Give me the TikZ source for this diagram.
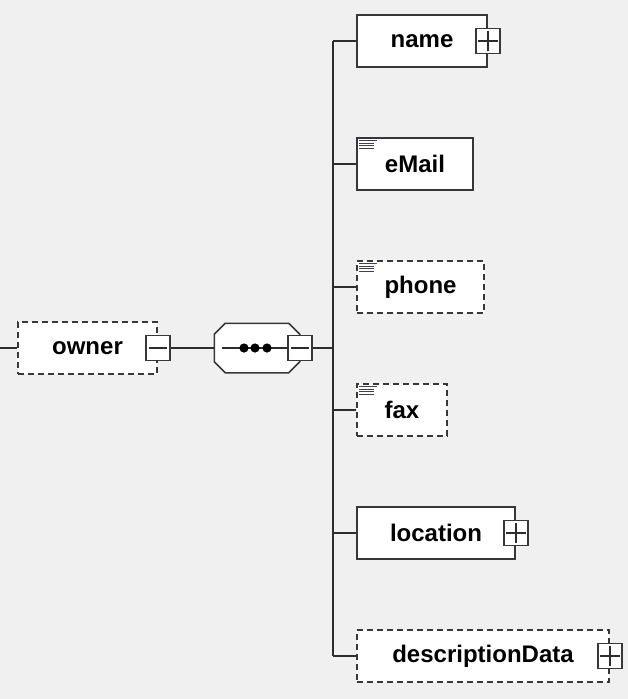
\documentclass[tikz,border=0pt]{standalone}
\usepackage{fontspec}
\setmainfont{Liberation Sans}
\begin{document}
\begin{tikzpicture}[x=1pt,y=-1pt,
  line width=1.5pt,
  elem/.style={draw=bordercol, fill=white, inner sep=0pt, minimum height=52pt,
    font=\bfseries\fontsize{24}{28}\selectfont, text=black},
  optional/.style={dash pattern=on 6pt off 4pt},
  toggle/.style={draw=bordercol, fill=white, inner sep=0pt, minimum width=24pt, minimum height=25pt},
  conn/.style={draw=linecol, line width=1.6pt},
  icon/.style={draw=iconcol, line width=1.1pt}
]
\definecolor{bg}{RGB}{240,240,240}
\definecolor{bordercol}{RGB}{55,55,55}
\definecolor{linecol}{RGB}{45,45,45}
\definecolor{iconcol}{RGB}{70,60,80}
\fill[bg] (0,0) rectangle (628,699);
\useasboundingbox (0,0) rectangle (628,699);

% left stub
\coordinate (start) at (0,348);

% owner
\node[elem, optional, minimum width=139pt] (owner) at (87.5,348) {owner};
\node[toggle] (ownerT) at (owner.east) {};
\draw[conn] ([xshift=4pt]ownerT.west) -- ([xshift=-4pt]ownerT.east);

% sequence
\node[inner sep=0pt, minimum width=84pt, minimum height=48pt] (seq) at (257,348) {};
\draw[draw=bordercol, fill=white]
  ([xshift=11pt]seq.north west) -- ([xshift=-11pt]seq.north east)
  -- ([yshift=-11pt]seq.north east) -- ([yshift=11pt]seq.south east)
  -- ([xshift=-11pt]seq.south east) -- ([xshift=11pt]seq.south west)
  -- ([yshift=11pt]seq.south west) -- ([yshift=-11pt]seq.north west) -- cycle;
\node[toggle] (seqT) at (seq.east) {};
\draw[conn] ([xshift=4pt]seqT.west) -- ([xshift=-4pt]seqT.east);
\coordinate (seqIn) at ([xshift=8pt]seq.west);
\draw[conn] (seqIn) -- (seqT.west);
\foreach \dx in {244,255,267} \fill[black] (\dx,348) circle (4.6pt);

% trunk
\coordinate (trunkTop) at (333,41);
\coordinate (trunkBot) at (333,656);
\coordinate (trunkMid) at (333,348);

% children
\node[elem, minimum width=130pt] (name) at (422,41) {name};
\node[elem, minimum width=116pt] (email) at (415,164) {eMail};
\node[elem, optional, minimum width=127pt] (phone) at (420.5,287) {phone};
\node[elem, optional, minimum width=90pt] (fax) at (402,410) {fax};
\node[elem, minimum width=158pt] (location) at (436,533) {location};
\node[elem, optional, minimum width=252pt] (desc) at (483,656) {descriptionData};

% plus toggles
\foreach \n in {name,location,desc}{
  \node[toggle] (\n T) at (\n.east) {};
  \draw[conn] ([xshift=3pt]\n T.west) -- ([xshift=-3pt]\n T.east);
  \draw[conn] ([yshift=-3pt]\n T.north) -- ([yshift=3pt]\n T.south);
}

% simple-type icons
\foreach \n in {email,phone,fax}{
  \draw[icon] ([shift={(3pt,-3.5pt)}]\n.north west) -- ([shift={(21pt,-3.5pt)}]\n.north west);
  \draw[icon] ([shift={(3pt,-6pt)}]\n.north west) -- ([shift={(18pt,-6pt)}]\n.north west);
  \draw[icon] ([shift={(3pt,-8.5pt)}]\n.north west) -- ([shift={(18pt,-8.5pt)}]\n.north west);
  \draw[icon] ([shift={(3pt,-11pt)}]\n.north west) -- ([shift={(18pt,-11pt)}]\n.north west);
}

% connectors
\draw[conn] (start) -- (owner.west);
\draw[conn] (ownerT.east) -- (seq.west);
\draw[conn] (seqT.east) -- (trunkMid);
\draw[conn] (trunkTop) -- (trunkBot);
\foreach \n in {name,email,phone,fax,location,desc}{
  \draw[conn] (trunkTop |- \n.west) -- (\n.west);
}
\end{tikzpicture}
\end{document}
